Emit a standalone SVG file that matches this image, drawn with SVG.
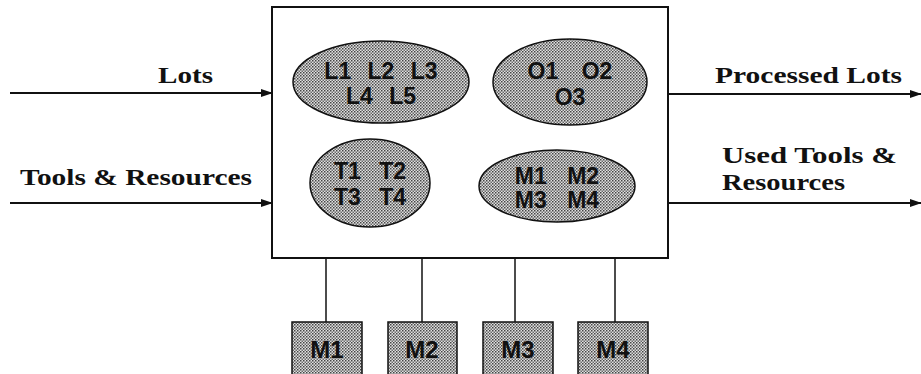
<svg xmlns="http://www.w3.org/2000/svg" width="921" height="374" viewBox="0 0 921 374">
<defs>
<pattern id="dots" width="3" height="3" patternUnits="userSpaceOnUse">
<rect width="3" height="3" fill="#e0e0e0"/>
<rect x="0" y="0" width="1.5" height="1.5" fill="#444"/>
<rect x="1.5" y="1.5" width="1.5" height="1.5" fill="#6a6a6a"/>
</pattern>
<marker id="arr" markerWidth="12" markerHeight="10" refX="11" refY="5" orient="auto" markerUnits="userSpaceOnUse">
<path d="M0,1 L12,5 L0,9 Z" fill="#111"/>
</marker>
</defs>
<style>
.blob{fill:url(#dots);stroke:#111;stroke-width:1.5}
.ht{font-family:"Liberation Sans",Arial,sans-serif;font-weight:bold;font-size:23px;fill:#111;text-anchor:middle}
.bx{font-size:24px}
.lbl{font-family:"Liberation Serif","Times New Roman",serif;font-weight:bold;font-size:24px;fill:#111}
.flow{stroke:#111;stroke-width:2;fill:none;marker-end:url(#arr)}
.link{stroke:#111;stroke-width:1.5;fill:none}
</style>
<rect width="921" height="374" fill="#fff"/>

<g id="connectors">
<line class="flow" x1="10" y1="93" x2="272" y2="93"/>
<line class="flow" x1="10" y1="203" x2="272" y2="203"/>
<line class="flow" x1="668" y1="94" x2="921" y2="94"/>
<line class="flow" x1="668" y1="203" x2="921" y2="203"/>
<line class="link" x1="326" y1="258" x2="326" y2="322"/>
<line class="link" x1="422" y1="258" x2="422" y2="322"/>
<line class="link" x1="515" y1="258" x2="515" y2="322"/>
<line class="link" x1="615" y1="258" x2="615" y2="322"/>
</g>

<g id="labels">
<text class="lbl" x="158" y="83" textLength="55" lengthAdjust="spacingAndGlyphs">Lots</text>
<text class="lbl" x="20" y="185" textLength="232" lengthAdjust="spacingAndGlyphs">Tools &amp; Resources</text>
<text class="lbl" x="715" y="83" textLength="187" lengthAdjust="spacingAndGlyphs">Processed Lots</text>
<text class="lbl" x="722" y="163" textLength="175" lengthAdjust="spacingAndGlyphs">Used Tools &amp;</text>
<text class="lbl" x="722" y="190" textLength="123" lengthAdjust="spacingAndGlyphs">Resources</text>
</g>

<g id="system">
<rect x="272" y="7" width="396" height="251" fill="#fff" stroke="#111" stroke-width="2"/>
</g>

<g id="lots">
<ellipse class="blob" cx="381" cy="82" rx="88" ry="41"/>
<text class="ht" x="381" y="79" style="word-spacing:10px">L1 L2 L3</text>
<text class="ht" x="381" y="104" style="word-spacing:10px">L4 L5</text>
</g>

<g id="operations">
<ellipse class="blob" cx="570" cy="82" rx="77" ry="43"/>
<text class="ht" x="570" y="79" style="word-spacing:17px">O1 O2</text>
<text class="ht" x="570" y="105">O3</text>
</g>

<g id="tools">
<ellipse class="blob" cx="370" cy="183" rx="60" ry="44"/>
<text class="ht" x="370" y="179" style="word-spacing:12px">T1 T2</text>
<text class="ht" x="370" y="205" style="word-spacing:12px">T3 T4</text>
</g>

<g id="machines">
<ellipse class="blob" cx="557" cy="186" rx="78" ry="36"/>
<text class="ht" x="557" y="184" style="word-spacing:14px">M1 M2</text>
<text class="ht" x="557" y="208" style="word-spacing:14px">M3 M4</text>
</g>

<g id="m1">
<rect class="blob" x="292" y="322" width="70" height="56"/>
<text class="ht bx" x="327" y="358">M1</text>
</g>
<g id="m2">
<rect class="blob" x="388" y="322" width="69" height="56"/>
<text class="ht bx" x="422" y="358">M2</text>
</g>
<g id="m3">
<rect class="blob" x="483" y="322" width="70" height="56"/>
<text class="ht bx" x="518" y="358">M3</text>
</g>
<g id="m4">
<rect class="blob" x="578" y="322" width="70" height="56"/>
<text class="ht bx" x="613" y="358">M4</text>
</g>
</svg>
